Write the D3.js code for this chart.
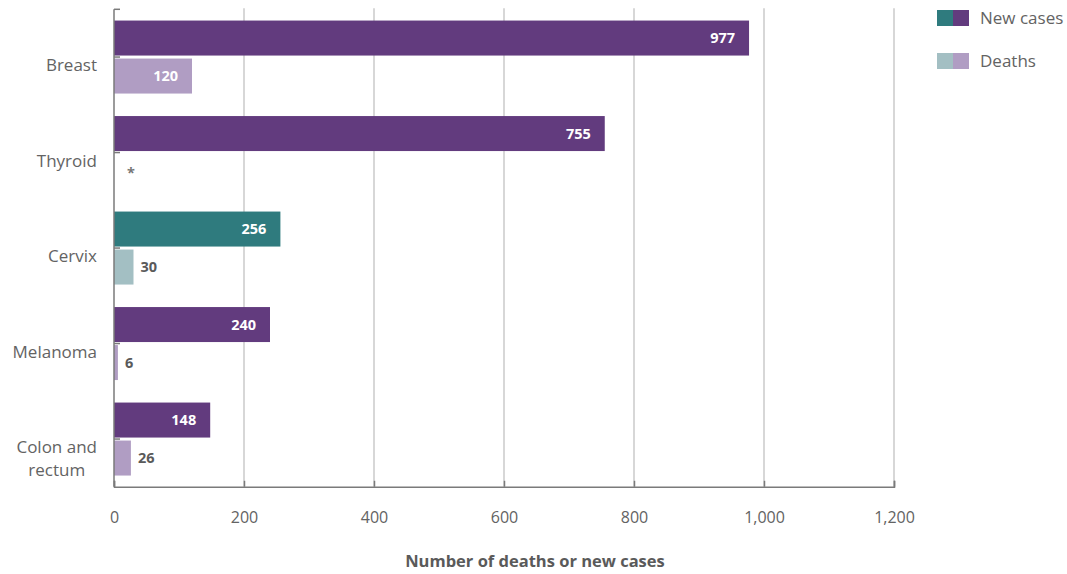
<!DOCTYPE html>
<html>
<head>
<meta charset="utf-8">
<script src="https://cdn.jsdelivr.net/npm/d3@7"></script>
<style>
  html, body { margin: 0; padding: 0; background: #fff; }
  svg { display: block; font-family: "Open Sans", "Noto Sans", sans-serif; }
</style>
</head>
<body>
<svg id="chart" width="1067" height="574"></svg>
<script>
// ---- data ----
const categories = ["Breast", "Thyroid", "Cervix", "Melanoma", "Colon and rectum"];
const categoryLines = [["Breast"], ["Thyroid"], ["Cervix"], ["Melanoma"], ["Colon and", "rectum"]];
const newCases = [977, 755, 256, 240, 148];
const deaths = [120, null, 30, 6, 26];          // null = suppressed value
const deathLabels = ["120", "*", "30", "6", "26"];
const highlight = [false, false, true, false, false];  // Cervix in teal
const xTicks = [0, 200, 400, 600, 800, 1000, 1200];
const seriesNames = ["New cases", "Deaths"];

// ---- styles ----
const colors = {
  newMain: "#623b7e", newHi: "#2f7b7e",
  deathMain: "#b09dc3", deathHi: "#a3bfc3",
  axis: "#7a7a7a", grid: "#bdbdbd", text: "#636363", valueDark: "#5a5a5a"
};

const svg = d3.select("#chart");
const margin = { left: 114, right: 1067 - 894, top: 9.3, bottom: 574 - 486.8 };
const W = 1067, H = 574;

const x = d3.scaleLinear().domain([0, 1200]).range([margin.left, W - margin.right]);
const y = d3.scaleBand().domain(categories).range([margin.top, H - margin.bottom]).paddingInner(0).paddingOuter(0);
const bw = y.bandwidth();
const barH = 35, barGap = 3;
const offTop = (bw - 2 * barH - barGap) / 2;

// gridlines
svg.append("g").selectAll("line").data(xTicks.filter(d => d > 0)).join("line")
  .attr("x1", d => x(d)).attr("x2", d => x(d))
  .attr("y1", margin.top - 1).attr("y2", H - margin.bottom)
  .attr("stroke", colors.grid).attr("stroke-width", 1.2);

// new-case bars
svg.append("g").selectAll("rect").data(categories).join("rect")
  .attr("x", x(0))
  .attr("y", d => y(d) + offTop)
  .attr("width", (d, i) => x(newCases[i]) - x(0))
  .attr("height", barH)
  .attr("fill", (d, i) => highlight[i] ? colors.newHi : colors.newMain);

// death bars
svg.append("g").selectAll("rect").data(categories.filter((d, i) => deaths[i] != null)).join("rect")
  .attr("x", x(0))
  .attr("y", d => y(d) + offTop + barH + barGap)
  .attr("width", d => x(deaths[categories.indexOf(d)]) - x(0))
  .attr("height", barH)
  .attr("fill", d => highlight[categories.indexOf(d)] ? colors.deathHi : colors.deathMain);

// new-case value labels (inside, white)
svg.append("g").selectAll("text").data(categories).join("text")
  .attr("x", (d, i) => x(newCases[i]) - 14)
  .attr("y", d => y(d) + offTop + barH / 2)
  .attr("dy", "0.36em")
  .attr("text-anchor", "end")
  .attr("font-size", 14.5).attr("font-weight", 700)
  .attr("fill", "#fff")
  .text((d, i) => d3.format(",")(newCases[i]));

// death value labels
svg.append("g").selectAll("text").data(categories).join("text")
  .each(function (d, i) {
    const v = deaths[i];
    const t = d3.select(this);
    const inside = v != null && (x(v) - x(0)) > 50;
    const yc = y(d) + offTop + barH + barGap + barH / 2;
    if (inside) {
      t.attr("x", x(v) - 14).attr("text-anchor", "end").attr("fill", "#fff");
    } else if (v == null) {
      t.attr("x", x(0) + 13).attr("text-anchor", "start").attr("fill", "#777");
    } else {
      t.attr("x", x(v) + 7).attr("text-anchor", "start").attr("fill", colors.valueDark);
    }
    t.attr("y", yc).attr("dy", v == null ? "0.42em" : "0.36em")
     .attr("font-size", 14.5).attr("font-weight", 700)
     .text(deathLabels[i]);
  });

// y axis
const yAxisG = svg.append("g");
yAxisG.append("line")
  .attr("x1", x(0)).attr("x2", x(0))
  .attr("y1", margin.top).attr("y2", H - margin.bottom)
  .attr("stroke", colors.axis).attr("stroke-width", 1.5);
const yTickPos = [margin.top].concat(categories.map(d => y(d) + bw / 2));
yAxisG.selectAll("line.tk").data(yTickPos).join("line").attr("class", "tk")
  .attr("x1", x(0)).attr("x2", x(0) + 6)
  .attr("y1", d => d).attr("y2", d => d)
  .attr("stroke", colors.axis).attr("stroke-width", 1.5);

// category labels (multi-line labels centred on their widest line)
svg.append("g").selectAll("text").data(categories).join("text")
  .attr("font-size", 17)
  .attr("fill", colors.text)
  .each(function (d, i) {
    const t = d3.select(this);
    const lines = categoryLines[i];
    const right = x(0) - 17;
    if (lines.length === 1) {
      t.attr("text-anchor", "end");
      t.append("tspan").attr("x", right).attr("y", y(d) + bw / 2 + 14).text(lines[0]);
    } else {
      t.attr("text-anchor", "middle");
      const spans = lines.map((ln, j) => t.append("tspan")
        .attr("y", y(d) + bw / 2 + 14 + j * 23).text(ln));
      const maxW = d3.max(spans, s => s.node().getComputedTextLength());
      spans.forEach(s => s.attr("x", right - maxW / 2));
    }
  });

// x axis
const xAxis = d3.axisBottom(x).tickValues(xTicks).tickSize(-6).tickPadding(0)
  .tickFormat(d3.format(","));
const xg = svg.append("g").attr("transform", `translate(0,${H - margin.bottom})`).call(xAxis);
xg.select(".domain").attr("stroke", colors.axis).attr("stroke-width", 1.5);
xg.selectAll(".tick line").attr("stroke", colors.axis).attr("stroke-width", 1.5);
xg.selectAll(".tick text")
  .attr("y", 36).attr("dy", 0)
  .attr("font-size", 16)
  .attr("font-family", "'Open Sans', sans-serif")
  .attr("fill", colors.text);

// x axis title
svg.append("text")
  .attr("x", (x(0) + x(1200)) / 2 + 31)
  .attr("y", 567)
  .attr("text-anchor", "middle")
  .attr("font-size", 16.5).attr("font-weight", 700)
  .attr("fill", colors.valueDark)
  .text("Number of deaths or new cases");

// legend
const legend = svg.append("g");
const legendRows = [
  { name: seriesNames[0], c1: colors.newHi, c2: colors.newMain, y: 10 },
  { name: seriesNames[1], c1: colors.deathHi, c2: colors.deathMain, y: 53 }
];
legendRows.forEach(r => {
  legend.append("rect").attr("x", 937).attr("y", r.y).attr("width", 16).attr("height", 16).attr("fill", r.c1);
  legend.append("rect").attr("x", 953).attr("y", r.y).attr("width", 16).attr("height", 16).attr("fill", r.c2);
  legend.append("text").attr("x", 980).attr("y", r.y + 8).attr("dy", "0.36em")
    .attr("font-size", 17).attr("fill", colors.text).text(r.name);
});
</script>
</body>
</html>
